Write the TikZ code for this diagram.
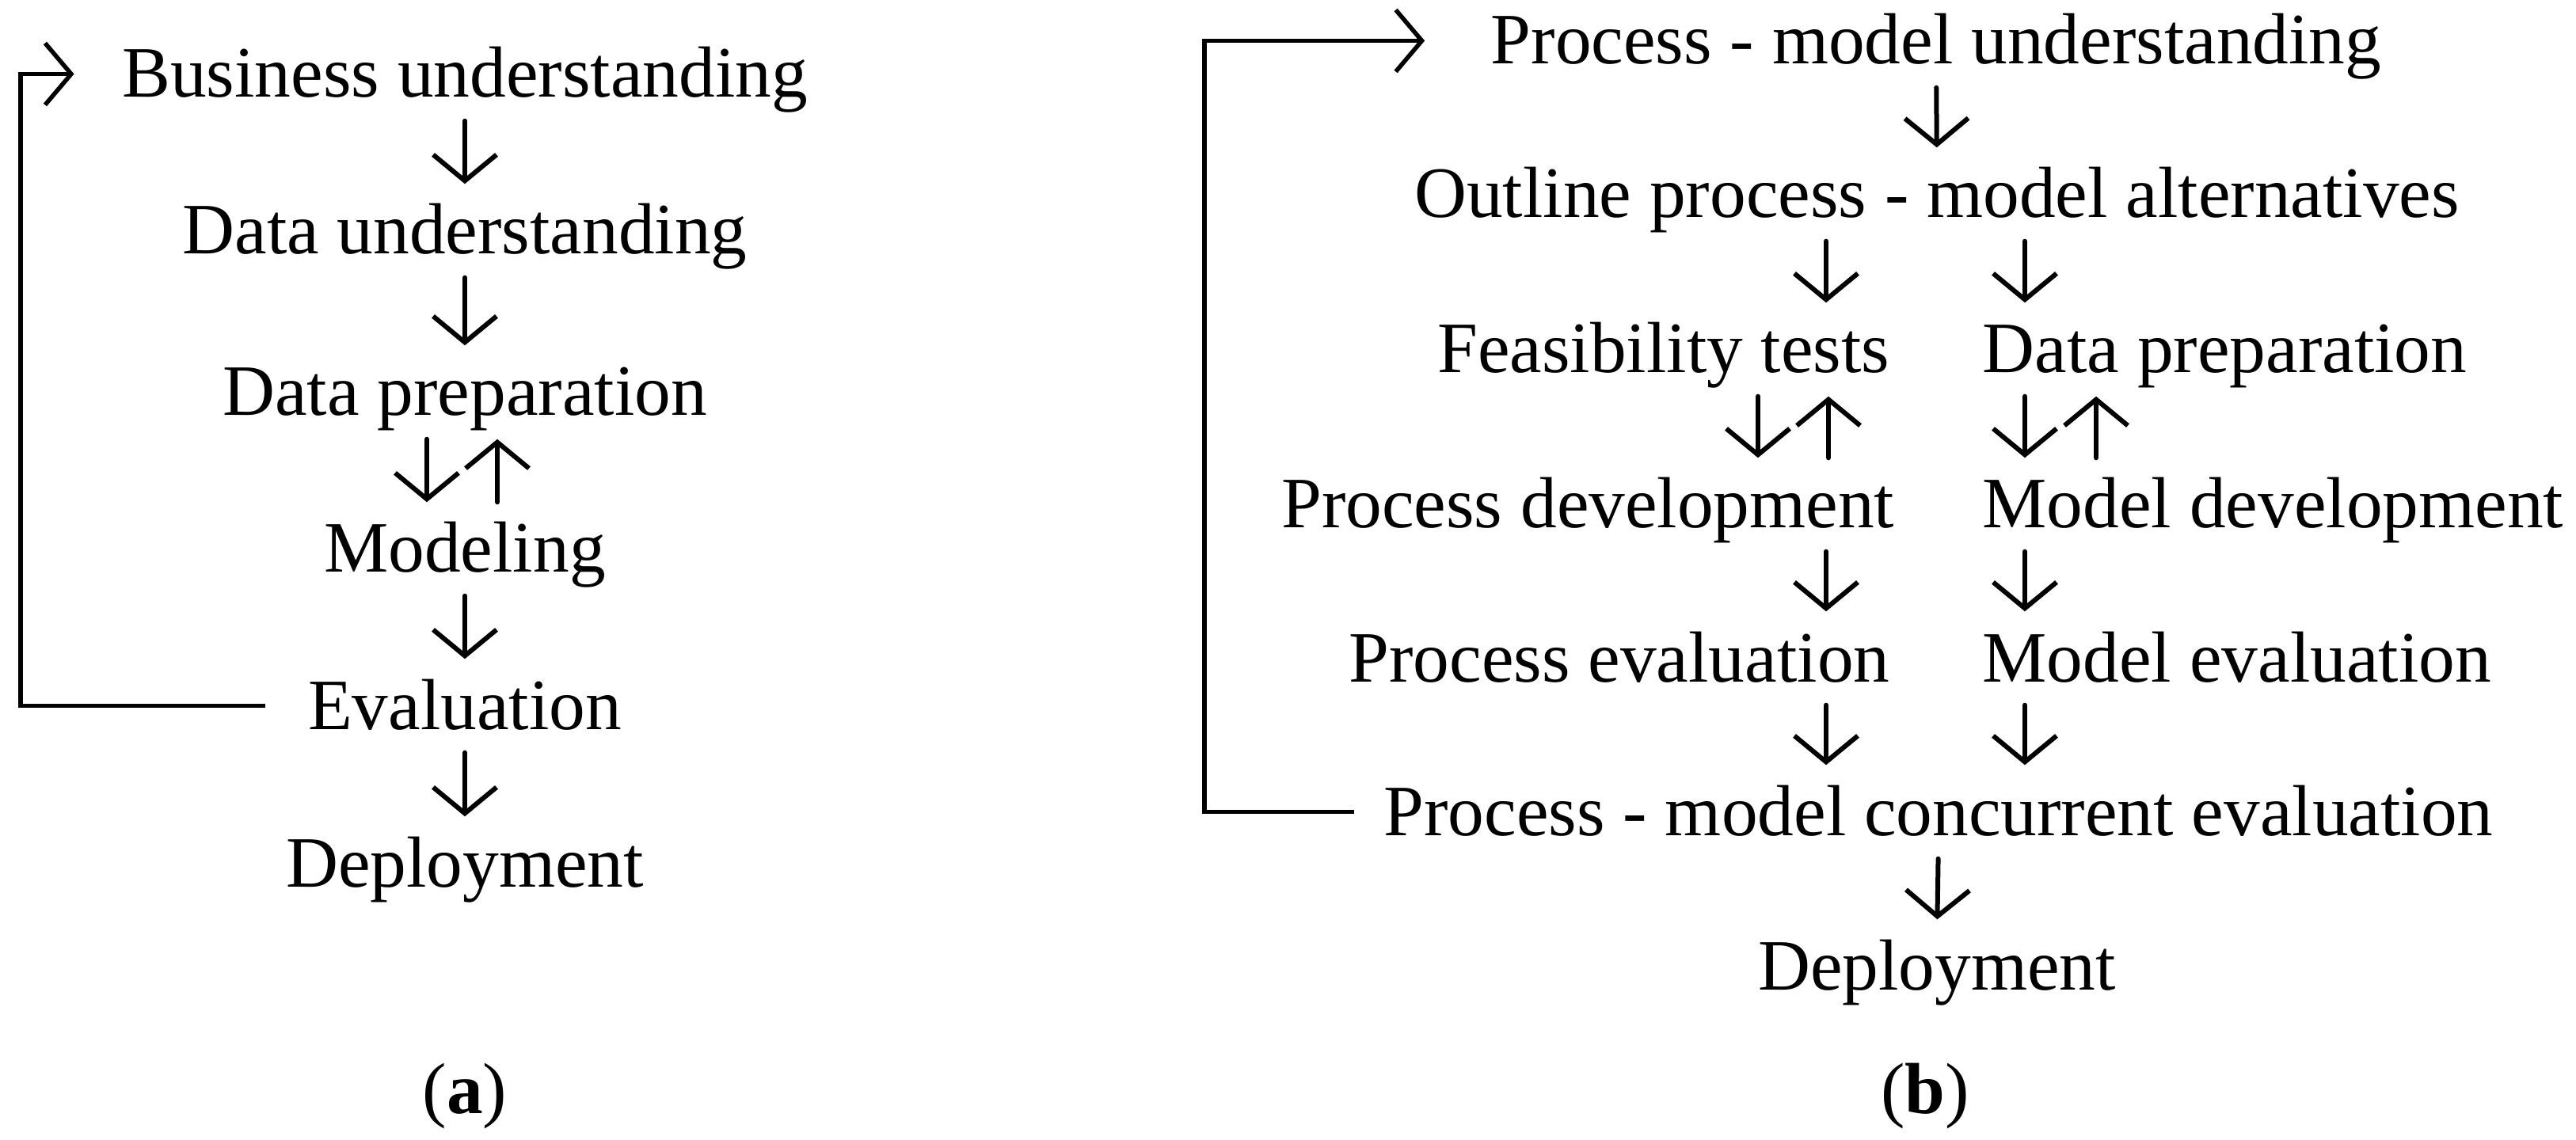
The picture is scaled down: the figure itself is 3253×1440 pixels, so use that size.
\documentclass[tikz,border=0pt]{standalone}
\usepackage{fontspec}
\setmainfont{Liberation Serif}
\usetikzlibrary{arrows.meta}
\tikzset{
  lbl/.style={inner sep=0pt, text height=5.9mm, text depth=0pt},
  arr/.style={-{Straight Barb[length=3.3mm,width=8mm]}, line width=0.6mm, line cap=round, shorten <=2.9mm, shorten >=2.9mm},
  back/.style={-{Straight Barb[length=3.3mm,width=7.8mm]}, line width=0.55mm}
}
\begin{document}
\begin{tikzpicture}[x=0.1mm, y=-0.1mm, font=\fontsize{26}{30}\selectfont]
  \useasboundingbox (0,0) rectangle (3253,1440);
  % (a)
  \node [lbl, anchor=base] (bu) at (587,123) {Business understanding};
  \node [lbl, anchor=base] (du) at (587,321) {Data understanding};
  \node [lbl, anchor=base] (dp) at (587,525) {Data preparation};
  \node [lbl, anchor=base] (mo) at (587,723) {Modeling};
  \node [lbl, anchor=base] (ev) at (587,921) {Evaluation};
  \node [lbl, anchor=base] (de) at (587,1120) {Deployment};
  \node [anchor=base, inner sep=0pt] (capa) at (587,1406) {(\textbf{a})};
  \coordinate (reta) at (26,0);
  \draw [arr] (bu.south) -- (du.north);
  \draw [arr] (du.south) -- (dp.north);
  \draw [arr] ([xshift=-4.8mm]dp.south) -- ([xshift=-4.8mm]mo.north);
  \draw [arr] ([xshift=4.1mm]mo.north) -- ([xshift=4.1mm]dp.south);
  \draw [arr] (mo.south) -- (ev.north);
  \draw [arr] (ev.south) -- (de.north);
  \draw [back] ([xshift=-5.3mm]ev.west) -| (reta |- bu.west) -- ([xshift=-6mm]bu.west);
  % (b)
  \node [lbl, anchor=base] (pu) at (2445,81) {Process - model understanding};
  \node [lbl, anchor=base] (oa) at (2446,275) {Outline process - model alternatives};
  \node [lbl, anchor=base east] (ft) at (2387,471) {Feasibility tests};
  \node [lbl, anchor=base west] (dq) at (2503,471) {Data preparation};
  \node [lbl, anchor=base east] (pd) at (2393,667) {Process development};
  \node [lbl, anchor=base west] (md) at (2503,667) {Model development};
  \node [lbl, anchor=base east] (pe) at (2387,861) {Process evaluation};
  \node [lbl, anchor=base west] (me) at (2503,861) {Model evaluation};
  \node [lbl, anchor=base] (pc) at (2448,1055) {Process - model concurrent evaluation};
  \node [lbl, anchor=base] (dz) at (2446,1250) {Deployment};
  \node [anchor=base, inner sep=0pt] (capb) at (2431,1406) {(\textbf{b})};
  \coordinate (colL) at (2306,0);
  \coordinate (colR) at (2557,0);
  \coordinate (upL) at (2309,0);
  \coordinate (dnL) at (2220,0);
  \coordinate (upR) at (2647,0);
  \coordinate (retb) at (1521,0);
  \draw [arr] (pu.south) -- (oa.north);
  \draw [arr] (oa.south -| colL) -- (ft.north -| colL);
  \draw [arr] (oa.south -| colR) -- (dq.north -| colR);
  \draw [arr] (ft.south -| dnL) -- (pd.north -| dnL);
  \draw [arr] (pd.north -| upL) -- (ft.south -| upL);
  \draw [arr] (dq.south -| colR) -- (md.north -| colR);
  \draw [arr] (md.north -| upR) -- (dq.south -| upR);
  \draw [arr] (pd.south -| colL) -- (pe.north -| colL);
  \draw [arr] (md.south -| colR) -- (me.north -| colR);
  \draw [arr] (pe.south -| colL) -- (pc.north -| colL);
  \draw [arr] (me.south -| colR) -- (pc.north -| colR);
  \draw [arr] (pc.south) -- (dz.north);
  \draw [back] ([xshift=-3.7mm]pc.west) -| (retb |- pu.west) -- ([xshift=-8.3mm]pu.west);
\end{tikzpicture}
\end{document}
